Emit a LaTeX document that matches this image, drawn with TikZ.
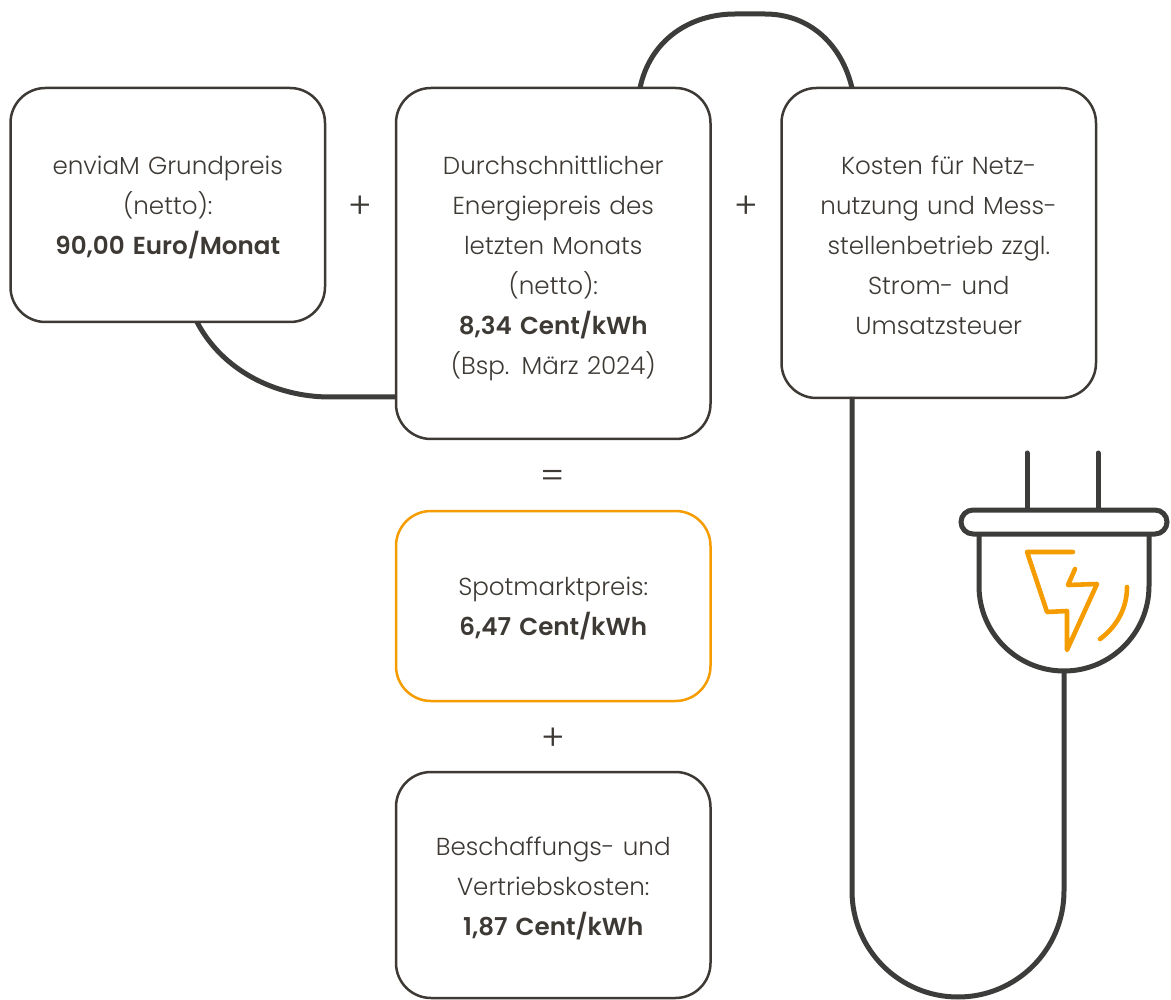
\documentclass[tikz,border=0pt]{standalone}
\usepackage{fontspec}
\setmainfont{Poppins Light}[BoldFont={Poppins SemiBold}]
\usetikzlibrary{positioning}
\definecolor{kabel}{HTML}{3C3C3B}
\definecolor{schrift}{HTML}{3D3935}
\definecolor{blitz}{HTML}{F59C00}
\tikzset{
pricebox/.style={draw=schrift, line width=2.5pt, rounded corners=35pt, minimum width=314.5pt, outer sep=0pt, text width=300pt, align=center, text=schrift, font=\fontsize{24.6}{40}\selectfont, execute at begin node={\rule{0pt}{#1}}}, % the price boxes
pricebox/.default=24pt,
signlabel/.style={text=schrift, font=\fontsize{36}{40}\selectfont, inner sep=0pt}, % + and =
cable/.style={draw=kabel, line width=5pt}, % the thick lines
flash/.style={draw=blitz, line width=4.6pt, line cap=round, line join=round}, % the bolt
}
\begin{document}
\begin{tikzpicture}[x=1pt, y=-1pt]
    \useasboundingbox (0,0) rectangle (1171,1000);
    % cables first, the boxes sit on their ends
    \coordinate (topA) at (640,88);
    \coordinate (topB) at (852,88);
    \coordinate (lowA) at (197,322);
    \coordinate (lowB) at (396,397);
    \coordinate (netzOut) at (852,397);
    \coordinate (plugIn) at (1064,671);
    \draw[cable] (topA) .. controls (650,40) and (690,14) .. (735,14) -- (765,14) .. controls (810,14) and (842,45) .. (topB);
    \draw[cable] (lowA) .. controls (222,370) and (275,397) .. (330,397) -- (lowB);
    \draw[cable] (netzOut) -- (852,891) arc[start angle=180, end angle=0, radius=106] -- (plugIn);

    \node[pricebox, minimum height=234pt, anchor=north west] (grund) at (10.5,88) {enviaM Grundpreis\\(netto):\\\textbf{90,00 Euro/Monat}};
    \node[pricebox=28pt, minimum height=351pt, right=71pt of grund.north east, anchor=north west] (energie) {Durchschnittlicher\\Energiepreis des\\letzten Monats\\(netto):\\\textbf{8,34 Cent/kWh}\\(Bsp. März 2024)};
    \node[pricebox, minimum height=310pt, right=71pt of energie.north east, anchor=north west] (netz) {Kosten für Netz-\\nutzung und Mess-\\stellenbetrieb zzgl.\\Strom- und\\Umsatzsteuer};
    \node[pricebox, draw=blitz, minimum height=190pt, below=72pt of energie] (spot) {Spotmarktpreis:\\\textbf{6,47 Cent/kWh}};
    \node[pricebox=26pt, minimum height=226pt, below=71pt of spot] (beschaffung) {Beschaffungs- und\\Vertriebskosten:\\\textbf{1,87 Cent/kWh}};

    \node[signlabel] (plusA) at (360.5,207) {+};
    \node[signlabel] (plusB) at (746,207) {+};
    \node[signlabel] (gleich) at (553,479) {=};
    \node[signlabel] (plusC) at (553,739) {+};

    % plug
    \draw[cable] (979,534) -- (979,586) arc[start angle=180, end angle=0, radius=85] -- (1149,534);
    \draw[cable, line cap=round] (1027,453) -- (1027,510);
    \draw[cable, line cap=round] (1098,453) -- (1098,510);
    \node[cable, draw, fill=white, rounded corners=12pt, minimum width=206pt, minimum height=24pt, inner sep=0pt, outer sep=0pt] (bar) at (1064,522) {};
    \draw[flash] (1073,552) -- (1027,552) -- (1047,612) -- (1067,611) -- (1067,650) -- (1097,584) -- (1068,585) -- (1075,569);
    \draw[flash] (1127,587) .. controls (1127,610) and (1115,628) .. (1100,639);
\end{tikzpicture}
\end{document}
